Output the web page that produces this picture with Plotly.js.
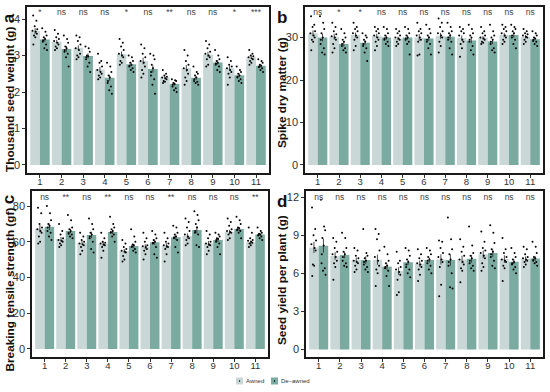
<!DOCTYPE html>
<html><head><meta charset="utf-8">
<script src="https://cdn.plot.ly/plotly-3.0.1.min.js"></script>
<style>html,body{margin:0;padding:0;background:#fff}#chart{width:550px;height:392px}</style>
</head><body><div id="chart"></div>
<script>
const categories = [1,2,3,4,5,6,7,8,9,10,11];
const groupNames = ['Awned', 'De\u2013awned'];

// a: Thousand seed weight (g)
const tswAwned   = [3.67,3.38,3.21,2.62,3.04,2.85,2.40,2.65,3.03,2.65,2.95];
const tswDeawned = [3.44,3.18,2.99,2.39,2.76,2.63,2.22,2.39,2.81,2.46,2.72];
const tswAwnedSE   = [0.08,0.05,0.07,0.07,0.07,0.09,0.04,0.09,0.07,0.07,0.04];
const tswDeawnedSE = [0.06,0.08,0.07,0.08,0.05,0.10,0.04,0.05,0.06,0.05,0.04];
const tswSig = ['*','ns','ns','ns','*','ns','**','ns','ns','*','***'];
const tswAwnedPts = [
 [4.1,3.95,3.8,3.72,3.68,3.65,3.6,3.55,3.5,3.3],
 [3.7,3.6,3.5,3.45,3.4,3.35,3.3,3.25,3.2,3.15],
 [3.55,3.5,3.4,3.3,3.2,3.15,3.05,3.0,2.95,2.9],
 [3.05,2.85,2.8,2.7,2.6,2.55,2.5,2.45,2.4,2.35],
 [3.45,3.35,3.25,3.15,3.05,3.0,2.95,2.85,2.8,2.75],
 [3.3,3.2,3.05,2.95,2.85,2.8,2.7,2.6,2.5,2.4],
 [2.6,2.5,2.45,2.42,2.4,2.38,2.35,2.3,2.28,2.25],
 [3.15,3.0,2.85,2.75,2.65,2.6,2.5,2.4,2.3,2.2],
 [3.4,3.3,3.2,3.1,3.05,3.0,2.95,2.9,2.75,2.7],
 [2.95,2.85,2.75,2.7,2.65,2.6,2.55,2.5,2.4,2.2],
 [3.15,3.05,3.0,2.98,2.95,2.92,2.9,2.85,2.8,2.75]];
const tswDeawnedPts = [
 [3.75,3.65,3.55,3.5,3.45,3.42,3.38,3.3,3.2,3.15],
 [3.55,3.45,3.35,3.25,3.2,3.15,3.1,3.05,2.95,2.7],
 [3.25,3.2,3.1,3.0,2.98,2.95,2.9,2.8,2.7,2.55],
 [2.8,2.7,2.55,2.45,2.4,2.3,2.25,2.15,2.05,1.95],
 [3.0,2.95,2.85,2.8,2.75,2.72,2.7,2.65,2.6,2.55],
 [3.05,3.0,2.9,2.75,2.65,2.55,2.45,2.35,2.2,1.95],
 [2.35,2.32,2.3,2.25,2.22,2.2,2.15,2.1,2.05,2.0],
 [2.7,2.55,2.5,2.45,2.4,2.35,2.3,2.28,2.25,2.2],
 [3.15,3.0,2.9,2.85,2.8,2.78,2.75,2.7,2.6,2.55],
 [2.7,2.6,2.55,2.5,2.45,2.42,2.4,2.35,2.3,2.25],
 [2.9,2.85,2.8,2.75,2.72,2.7,2.68,2.65,2.6,2.55]];

// b: Spike dry matter (g)
const sdmAwned   = [31.0,30.2,30.6,30.4,29.8,30.0,30.4,29.9,30.0,30.6,30.2];
const sdmDeawned = [30.0,28.5,28.8,30.0,30.0,29.8,30.2,29.3,29.1,30.6,29.6];
const sdmAwnedSE   = [0.7,0.7,0.6,0.5,0.4,0.8,0.7,0.6,0.4,0.5,0.4];
const sdmDeawnedSE = [0.9,0.6,0.6,0.5,0.5,0.6,0.7,0.6,0.6,0.6,0.3];
const sdmSig = ['ns','*','*','ns','ns','ns','ns','ns','ns','ns','ns'];
const sdmAwnedPts = [
 [35,33,32.5,31.5,31,30.5,30,29.5,29,27],
 [33.5,32.5,31.5,30.8,30.3,30,29.5,28.5,27.5,26.5],
 [33.5,32.5,32,31.5,31,30.5,30,29.5,28,27],
 [32.5,32,31.5,31,30.5,30,29.5,29,28,27],
 [32,31.5,31,30.5,30,29.8,29.5,29,28.5,28],
 [33.5,32,31.5,31,30.5,30,29.5,29,26,25.8],
 [34.5,33.5,32.5,31.5,31,30.5,30,29,28,26.5],
 [32.5,32,31.5,31,30.5,29.5,29,28.5,27.5,25.5],
 [32.5,31.5,31,30.5,30,29.8,29.5,29,28.8,28.5],
 [33,32.5,32,31.5,31,30.5,30,29.5,29,28.5],
 [32,31.5,31,30.8,30.5,30.2,30,29.5,29,28.5]];
const sdmDeawnedPts = [
 [35,33.5,32,31,30,29.5,28.5,27.5,26.5,26],
 [32,31,30,29.5,29,28.5,28,27.5,27,26.5],
 [31,30.5,30,29.5,29,28.5,28,27.5,26.5,24.5],
 [32.5,32,31,30.5,30,29.8,29.5,29,28.5,28],
 [32.5,32,31,30.5,30,29.8,29.5,29,28.5,26],
 [33,32,31,30.5,30,29.5,29,28.5,27.5,26],
 [33.5,32.5,31.5,31,30.5,30,29.5,29,27.5,26],
 [33,32,31,30.5,30,29.5,29,28,27,26],
 [33,31.5,30.5,30,29.5,29,28.5,27.5,27,26.5],
 [33,32.5,32,31.5,31,30.5,30,29.5,28.5,27.5],
 [31.5,31,30.5,30,29.8,29.5,29.2,29,28.5,28]];

// c: Breaking tensile strength (gf)
const btsAwned   = [67.3,61.4,59.5,58.9,54.8,57.2,57.8,63.2,59.1,65.5,59.7];
const btsDeawned = [68.4,66.0,63.8,65.5,57.6,59.7,62.5,66.6,61.0,67.1,64.0];
const btsAwnedSE   = [2.0,1.2,1.2,1.2,1.2,1.4,1.4,1.5,1.3,1.2,1.0];
const btsDeawnedSE = [1.8,1.2,1.8,1.2,1.2,1.5,1.5,2.0,1.2,1.1,0.6];
const btsSig = ['ns','**','ns','**','ns','ns','**','ns','ns','ns','**'];
const btsAwnedPts = [
 [79,76,70,68,67,66,65,63,60,59],
 [70,66,64,62,61,60.5,60,59,58,57],
 [65,63,61,60,59,58.5,58,57,55,53],
 [65,62,60,59.5,59,58.5,58,57,55,51],
 [61,59,57,56,55,54.5,54,52,50,49],
 [65,62,60,58,57.5,57,56,55,53,50],
 [65,62,60,59,58,57.5,57,56,53,49],
 [73,71,68,66,64,63,62,61,59,58],
 [66,64,62,60,59,58.5,58,57,55,53],
 [73,71,69,67,66,65.5,65,64,62,61],
 [68,65,62,61,60.5,60,59.5,59,58,57]];
const btsDeawnedPts = [
 [80,76,72,70,69,68,66,65,63,61],
 [75,72,68,67,66,65,64.5,64,63,62],
 [73,70,67,65,64,63,62,60,56,54],
 [74,70,68,67,66,65.5,65,64,63,60],
 [67,63,60,58.5,58,57.5,57,56,55,54],
 [66,64,62,61,60,59.5,59,57,53,51],
 [69,68,65,64,63,62.5,62,61,57,54],
 [77,75,72,70,68,66,65,64,58,57],
 [65,64,63,62,61.5,61,60,59,57,53],
 [74,72,70,68,67.5,67,66.5,66,65,62],
 [68,66,65,64.5,64,63.8,63.5,63,62,61]];

// d: Seed yield per plant (g)
const sypAwned   = [8.05,7.37,7.05,7.08,6.18,6.76,7.10,7.10,7.50,7.13,7.13];
const sypDeawned = [8.18,7.45,7.05,6.53,6.87,7.05,7.05,7.15,7.60,6.92,7.18];
const sypAwnedSE   = [0.45,0.3,0.2,0.4,0.3,0.25,0.4,0.3,0.3,0.3,0.2];
const sypDeawnedSE = [0.55,0.25,0.3,0.25,0.2,0.2,0.45,0.3,0.3,0.2,0.2];
const sypSig = ['ns','ns','ns','ns','ns','ns','ns','ns','ns','ns','ns'];
const sypAwnedPts = [
 [11.2,9.5,9.0,8.6,8.3,8.0,7.8,6.7,6.6,5.8],
 [8.8,8.5,8.0,7.7,7.5,7.3,7.0,6.8,6.5,5.5],
 [8.0,7.8,7.4,7.2,7.0,6.9,6.8,6.6,6.3,6.1],
 [9.5,9.1,8.7,7.8,7.3,7.0,6.6,6.3,6.0,5.0],
 [7.7,7.0,6.8,6.5,6.3,6.1,5.9,5.5,4.5,4.3],
 [7.9,7.5,7.2,7.0,6.8,6.7,6.5,6.3,5.9,5.4],
 [8.6,8.5,8.0,7.6,7.3,7.1,6.9,6.5,5.1,4.2],
 [8.7,8.1,7.7,7.4,7.1,6.9,6.7,6.4,6.2,5.3],
 [9.3,8.5,8.0,7.8,7.6,7.4,7.2,6.8,6.5,6.2],
 [8.8,7.9,7.6,7.3,7.1,7.0,6.9,6.6,6.4,5.4],
 [8.1,7.9,7.5,7.3,7.2,7.1,7.0,6.9,6.7,6.5]];
const sypDeawnedPts = [
 [11.8,9.7,9.4,8.8,8.2,7.5,6.8,6.4,6.2,5.9],
 [9.2,8.8,8.0,7.7,7.5,7.3,7.0,6.8,6.6,6.5],
 [9.5,7.6,7.4,7.2,7.0,6.9,6.7,6.5,6.3,6.1],
 [8.1,7.5,7.0,6.8,6.6,6.5,6.4,6.2,5.8,5.0],
 [8.0,7.8,7.4,7.1,6.9,6.7,6.5,6.3,6.0,5.7],
 [8.0,7.8,7.5,7.3,7.1,7.0,6.8,6.6,6.3,6.0],
 [10.4,8.7,7.9,7.5,7.1,6.9,6.6,6.0,4.9,4.8],
 [9.7,8.2,7.6,7.4,7.2,7.0,6.8,6.6,6.4,6.2],
 [9.8,9.2,8.4,7.9,7.7,7.5,7.3,7.0,6.6,6.4],
 [8.0,7.6,7.3,7.1,6.9,6.8,6.7,6.5,6.3,6.0],
 [8.5,8.1,7.6,7.3,7.2,7.1,7.0,6.9,6.8,6.6]];

// ---------- styling / layout ----------
const W = 550, H = 392;
const px = v => v / W, py = v => 1 - v / H;
const COL_A = '#c9d7d7', COL_D = '#7aaaa0';
const FONT = 'Liberation Sans, Arial, Helvetica, sans-serif';
const jitter = [-0.09, 0.06, -0.02, 0.10, -0.12, 0.03, 0.08, -0.05, 0.01, -0.08];

const panels = [
  {ax:'', box:[27,269,7,173], yr:[-0.22,4.33], yt:[0,1,2,3,4], sigY:4.16,
   a:tswAwned, d:tswDeawned, aSE:tswAwnedSE, dSE:tswDeawnedSE, aP:tswAwnedPts, dP:tswDeawnedPts, sig:tswSig},
  {ax:'2', box:[305,543,7,173], yr:[-1.9,37.2], yt:[0,10,20,30], sigY:35.8,
   a:sdmAwned, d:sdmDeawned, aSE:sdmAwnedSE, dSE:sdmDeawnedSE, aP:sdmAwnedPts, dP:sdmDeawnedPts, sig:sdmSig},
  {ax:'3', box:[32,268,191,357], yr:[-4.5,88.4], yt:[0,20,40,60,80], sigY:84.6,
   a:btsAwned, d:btsDeawned, aSE:btsAwnedSE, dSE:btsDeawnedSE, aP:btsAwnedPts, dP:btsDeawnedPts, sig:btsSig},
  {ax:'4', box:[306,543,191,357], yr:[-0.6,12.5], yt:[0,3,6,9,12], sigY:11.97,
   a:sypAwned, d:sypDeawned, aSE:sypAwnedSE, dSE:sypDeawnedSE, aP:sypAwnedPts, dP:sypDeawnedPts, sig:sypSig}
];

const traces = [];
const layout = {
  width: W, height: H, margin: {l:0, r:0, t:0, b:0},
  paper_bgcolor: '#fff', plot_bgcolor: '#fff',
  showlegend: false, barmode: 'group', bargap: 0.1, bargroupgap: 0,
  font: {family: FONT, color: '#222'},
  annotations: [], shapes: []
};

panels.forEach(p => {
  const xa = 'x' + p.ax, ya = 'y' + p.ax;
  traces.push({type:'bar', x:categories, y:p.a, name:groupNames[0], xaxis:xa, yaxis:ya,
    marker:{color:COL_A, line:{width:0}},
    error_y:{type:'data', array:p.aSE, visible:true, width:0, thickness:0.8, color:'#222'}, hoverinfo:'skip'});
  traces.push({type:'bar', x:categories, y:p.d, name:groupNames[1], xaxis:xa, yaxis:ya,
    marker:{color:COL_D, line:{width:0}},
    error_y:{type:'data', array:p.dSE, visible:true, width:0, thickness:0.8, color:'#222'}, hoverinfo:'skip'});
  const xs = [], ys = [];
  categories.forEach((c, i) => {
    p.aP[i].forEach((v, k) => { xs.push(c - 0.225 + jitter[k]); ys.push(v); });
    p.dP[i].forEach((v, k) => { xs.push(c + 0.225 + jitter[(k + 4) % jitter.length]); ys.push(v); });
  });
  traces.push({type:'scatter', mode:'markers', x:xs, y:ys, xaxis:xa, yaxis:ya,
    marker:{color:'#000', size:2}, hoverinfo:'skip'});
  traces.push({type:'scatter', mode:'text', x:categories, y:categories.map(() => p.sigY),
    text:p.sig, xaxis:xa, yaxis:ya, textposition:'middle center',
    textfont:{family:FONT, size:8.5, color:'#444'}, hoverinfo:'skip'});

  const [l, r, t, b] = p.box;
  layout['xaxis' + p.ax] = {domain:[px(l), px(r)], anchor:ya, range:[0.4, 11.6],
    tickvals:categories, ticktext:categories.map(String), ticks:'outside', ticklen:3, tickcolor:'#333',
    ticklabelstandoff:-4,
    showline:true, mirror:true, linecolor:'#1a1a1a', linewidth:1.7, showgrid:false, zeroline:false,
    tickfont:{size:9.5, color:'#333', family:FONT}};
  layout['yaxis' + p.ax] = {domain:[py(b), py(t)], anchor:xa, range:p.yr,
    tickvals:p.yt, ticks:'outside', ticklen:3, tickcolor:'#333',
    showline:true, mirror:true, linecolor:'#1a1a1a', linewidth:1.7, showgrid:false, zeroline:false,
    tickfont:{size:11, color:'#333', family:FONT}};
});

// y-axis titles with panel tags
const tFont = {family:FONT, size:11.8, color:'#111'};
layout.annotations.push(
  {xref:'paper', yref:'paper', x:px(8), y:py(93), xanchor:'center', yanchor:'middle', textangle:-90,
   showarrow:false, font:tFont, text:'<b>Thousand seed weight (g) <span style="font-size:17px">a</span></b>'},
  {xref:'paper', yref:'paper', x:px(282), y:py(93), xanchor:'center', yanchor:'middle', textangle:-90,
   showarrow:false, font:tFont, text:'<b>Spike dry matter (g)</b>'},
  {xref:'paper', yref:'paper', x:px(282), y:py(17), xanchor:'center', yanchor:'middle',
   showarrow:false, font:{family:FONT, size:17, color:'#111'}, text:'<b>b</b>'},
  {xref:'paper', yref:'paper', x:px(8), y:py(193), xanchor:'center', yanchor:'top', textangle:-90,
   showarrow:false, font:tFont, text:'<b>Breaking tensile strength (gf) <span style="font-size:17px">c</span></b>'},
  {xref:'paper', yref:'paper', x:px(282), y:py(280), xanchor:'center', yanchor:'middle', textangle:-90,
   showarrow:false, font:tFont, text:'<b>Seed yield per plant (g)</b>'},
  {xref:'paper', yref:'paper', x:px(282), y:py(202), xanchor:'center', yanchor:'middle',
   showarrow:false, font:{family:FONT, size:17, color:'#111'}, text:'<b>d</b>'}
);

// manual legend
const legendItems = [{x0:236, col:COL_A, label:groupNames[0], tx:245}, {x0:271, col:COL_D, label:groupNames[1], tx:280}];
legendItems.forEach(it => {
  layout.shapes.push({type:'rect', xref:'paper', yref:'paper', x0:px(it.x0), x1:px(it.x0 + 7),
    y0:py(384.5), y1:py(377.5), fillcolor:it.col, line:{width:0}});
  layout.shapes.push({type:'circle', xref:'paper', yref:'paper', x0:px(it.x0 + 2.8), x1:px(it.x0 + 4.2),
    y0:py(381.7), y1:py(380.3), fillcolor:'#000', line:{width:0}});
  layout.annotations.push({xref:'paper', yref:'paper', x:px(it.tx), y:py(381), xanchor:'left', yanchor:'middle',
    showarrow:false, borderpad:0, text:it.label, font:{family:FONT, size:6, color:'#333'}});
});

Plotly.newPlot('chart', traces, layout, {staticPlot:true, displayModeBar:false});
</script>
</body></html>
